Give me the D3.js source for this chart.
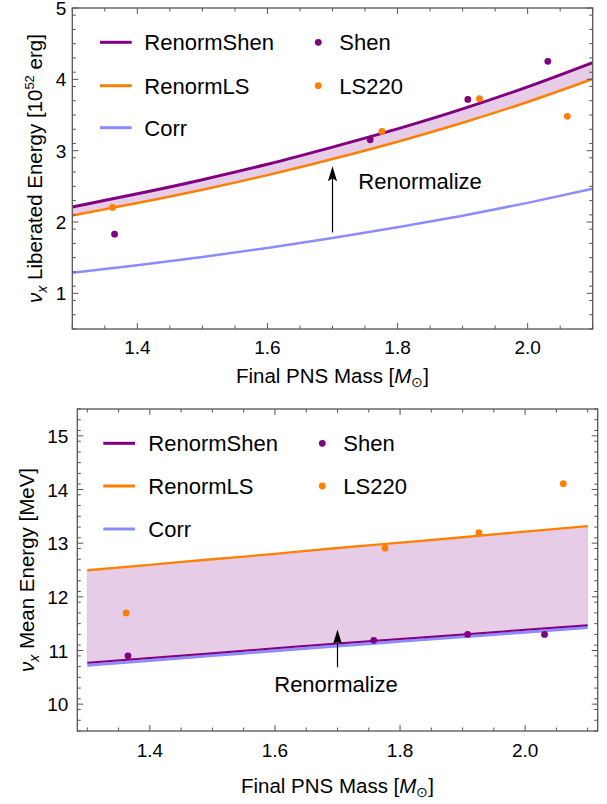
<!DOCTYPE html>
<html><head><meta charset="utf-8">
<script src="https://cdn.jsdelivr.net/npm/d3@7"></script>
<style>
html,body{margin:0;padding:0;background:#fff;}
svg{display:block;font-family:"Liberation Sans",Arial,sans-serif;}
</style></head>
<body>
<svg id="chart" width="607" height="804"></svg>
<script>
// ---------------- data ----------------
const massGrid = [1.3, 1.4, 1.5, 1.6, 1.7, 1.8, 1.9, 2.0, 2.1];
// top panel: liberated energy [1e52 erg]
const topCorr = [1.288, 1.395, 1.510, 1.636, 1.775, 1.925, 2.088, 2.268, 2.465];
const topRenormShen = [2.210, 2.395, 2.593, 2.810, 3.050, 3.305, 3.585, 3.895, 4.235];
const topRenormLS = [2.090, 2.265, 2.452, 2.657, 2.883, 3.126, 3.391, 3.683, 4.005];
// bottom panel: mean energy [MeV]
const botCorr = [10.725, 10.815, 10.905, 10.995, 11.085, 11.170, 11.255, 11.340, 11.430];
const botRenormShen = [10.770, 10.860, 10.950, 11.040, 11.130, 11.215, 11.300, 11.385, 11.470];
const botRenormLS = [12.495, 12.597, 12.700, 12.800, 12.910, 13.010, 13.110, 13.215, 13.318];
// simulation points
const shenMass = [1.365, 1.758, 1.908, 2.031];
const lsMass = [1.362, 1.776, 1.926, 2.061];
const topShenPts = [1.83, 3.153, 3.719, 4.252];
const topLSPts = [2.205, 3.270, 3.728, 3.481];
const botShenPts = [10.90, 11.19, 11.30, 11.30];
const botLSPts = [11.70, 12.906, 13.198, 14.108];
// ticks
const xMajor = [1.4, 1.6, 1.8, 2.0];
const topYMajor = [1, 2, 3, 4, 5];
const botYMajor = [10, 11, 12, 13, 14, 15];
const legendLines = ["RenormShen", "RenormLS", "Corr"];
const legendPoints = ["Shen", "LS220"];

// ---------------- style ----------------
const C = {shen: "#800080", ls: "#ff8000", corr: "#8c8cff", frame: "#555555"};
const FONT = "Liberation Sans, Arial, sans-serif";
const svg = d3.select("#chart");

function range(a, b, s) { const r = []; for (let v = a; v <= b + 1e-9; v += s) r.push(+v.toFixed(4)); return r; }

function panel(opt) {
  const g = svg.append("g");
  const x = d3.scaleLinear().domain(opt.xDom).range([opt.left, opt.right]);
  const y = d3.scaleLinear().domain(opt.yDom).range([opt.bottom, opt.top]);
  const lineOf = arr => d3.line().x((d, i) => x(massGrid[i])).y(d => y(d)).curve(d3.curveMonotoneX)(arr);

  // fill between RenormShen and RenormLS
  const area = d3.area().x((d, i) => x(massGrid[i])).y0((d, i) => y(opt.ls[i])).y1(d => y(d)).curve(d3.curveMonotoneX);
  g.append("path").attr("d", area(opt.shen)).attr("fill", C.shen).attr("fill-opacity", 0.2)
    .attr("stroke", C.shen).attr("stroke-opacity", 0.12).attr("stroke-width", 1);

  g.append("path").attr("d", lineOf(opt.corr)).attr("fill", "none").attr("stroke", C.corr).attr("stroke-width", opt.wCorr);
  g.append("path").attr("d", lineOf(opt.ls)).attr("fill", "none").attr("stroke", C.ls).attr("stroke-width", opt.wLS);
  g.append("path").attr("d", lineOf(opt.shen)).attr("fill", "none").attr("stroke", C.shen).attr("stroke-width", opt.wShen);

  g.selectAll(".ps").data(opt.shenPts).enter().append("circle")
    .attr("cx", (d, i) => x(shenMass[i])).attr("cy", d => y(d)).attr("r", 3.4).attr("fill", C.shen);
  g.selectAll(".pl").data(opt.lsPts).enter().append("circle")
    .attr("cx", (d, i) => x(lsMass[i])).attr("cy", d => y(d)).attr("r", 3.4).attr("fill", C.ls);

  // arrow
  const ax = x(1.70), ay0 = y(opt.arrow[0]), ay1 = y(opt.arrow[1]);
  g.append("line").attr("x1", ax).attr("x2", ax).attr("y1", ay0).attr("y2", ay1 + 8).attr("stroke", "#000").attr("stroke-width", 1.2);
  g.append("path").attr("d", `M${ax},${ay1} L${ax + 4.6},${ay1 + 15} L${ax},${ay1 + 12} L${ax - 4.6},${ay1 + 15} Z`).attr("fill", "#000");
  g.append("text").attr("x", opt.renorm[0]).attr("y", opt.renorm[1]).attr("text-anchor", opt.renorm[2])
    .attr("font-size", 22).attr("fill", "#000").text("Renormalize");

  // frame + ticks
  g.append("rect").attr("x", opt.left).attr("y", opt.top).attr("width", opt.right - opt.left).attr("height", opt.bottom - opt.top)
    .attr("fill", "none").attr("stroke", C.frame).attr("stroke-width", 1.3);
  const xMinor = range(1.3, 2.1, 0.05).filter(v => !xMajor.some(m => Math.abs(m - v) < 1e-6));
  const yMinor = range(opt.yDom[0], opt.yDom[1], 0.2).filter(v => !opt.yMajor.some(m => Math.abs(m - v) < 1e-6));
  const tk = g.append("g").attr("stroke", C.frame).attr("stroke-width", 1);
  [[xMajor, 6], [xMinor, 3.5]].forEach(([vals, L]) => vals.forEach(v => {
    tk.append("line").attr("x1", x(v)).attr("x2", x(v)).attr("y1", opt.bottom).attr("y2", opt.bottom - L);
    tk.append("line").attr("x1", x(v)).attr("x2", x(v)).attr("y1", opt.top).attr("y2", opt.top + L);
  }));
  [[opt.yMajor, 6], [yMinor, 3.5]].forEach(([vals, L]) => vals.forEach(v => {
    tk.append("line").attr("y1", y(v)).attr("y2", y(v)).attr("x1", opt.left).attr("x2", opt.left + L);
    tk.append("line").attr("y1", y(v)).attr("y2", y(v)).attr("x1", opt.right).attr("x2", opt.right - L);
  }));
  xMajor.forEach(v => g.append("text").attr("x", x(v)).attr("y", opt.xTickY).attr("text-anchor", "middle")
    .attr("font-size", 19).text(d3.format(".1f")(v)));
  opt.yMajor.forEach(v => g.append("text").attr("x", opt.left - opt.yTickGap).attr("y", y(v) + 7).attr("text-anchor", "end")
    .attr("font-size", 19).text(v));

  // x title
  const xt = g.append("text").attr("x", (opt.left + opt.right) / 2).attr("y", opt.xTitleY).attr("text-anchor", "middle").attr("font-size", 20.5);
  xt.append("tspan").text("Final PNS Mass [");
  xt.append("tspan").attr("font-style", "italic").text("M");
  xt.append("tspan").attr("font-size", 14).attr("dy", 4).text("\u2299");
  xt.append("tspan").attr("dy", -4).text("]");

  // y title
  const yt = g.append("text").attr("transform", `translate(${opt.yTitleX},${(opt.top + opt.bottom) / 2}) rotate(-90)`)
    .attr("text-anchor", "middle").attr("font-size", 20.5);
  yt.append("tspan").attr("font-style", "italic").text("\u03bd");
  yt.append("tspan").attr("font-style", "italic").attr("font-size", 14).attr("dy", 5).text("x");
  yt.append("tspan").attr("dy", -5).text(opt.yTitle[0]);
  if (opt.yTitle.length > 1) {
    yt.append("tspan").attr("font-size", 13).attr("dy", -8).text(opt.yTitle[1]);
    yt.append("tspan").attr("dy", 8).text(opt.yTitle[2]);
  }

  // legend
  const colorsL = [C.shen, C.ls, C.corr];
  legendLines.forEach((name, i) => {
    const ry = opt.legRows[i];
    g.append("line").attr("x1", opt.legLine[0]).attr("x2", opt.legLine[1]).attr("y1", ry).attr("y2", ry)
      .attr("stroke", colorsL[i]).attr("stroke-width", opt.legW);
    g.append("text").attr("x", opt.legText).attr("y", ry + 8).attr("font-size", 22).text(name);
  });
  const colorsP = [C.shen, C.ls];
  legendPoints.forEach((name, i) => {
    const ry = opt.legRows[i];
    g.append("circle").attr("cx", opt.legDot).attr("cy", ry).attr("r", 3.4).attr("fill", colorsP[i]);
    g.append("text").attr("x", opt.legDot + 21).attr("y", ry + 8).attr("font-size", 22).text(name);
  });
}

panel({
  xDom: [1.3, 2.1], yDom: [0.5, 5], left: 72.3, right: 592.7, top: 8, bottom: 329,
  corr: topCorr, shen: topRenormShen, ls: topRenormLS, shenPts: topShenPts, lsPts: topLSPts,
  wCorr: 2.5, wLS: 2.5, wShen: 3,
  arrow: [1.854, 2.78], renorm: [358.3, 188.5, "start"],
  yMajor: topYMajor, xTickY: 354, yTickGap: 6, xTitleY: 383, yTitleX: 42,
  yTitle: [" Liberated Energy [10", "52", " erg]"],
  legRows: [42.3, 85.7, 127.7], legLine: [100, 131.7], legText: 144.3, legDot: 318.3, legW: 3
});
panel({
  xDom: [1.284, 2.116], yDom: [9.5, 15.5], left: 77.3, right: 597.7, top: 409, bottom: 731,
  corr: botCorr, shen: botRenormShen, ls: botRenormLS, shenPts: botShenPts, lsPts: botLSPts,
  wCorr: 3, wLS: 2.3, wShen: 2,
  arrow: [10.69, 11.39], renorm: [336, 691.7, "middle"],
  yMajor: botYMajor, xTickY: 756.7, yTickGap: 9, xTitleY: 793, yTitleX: 34,
  yTitle: [" Mean Energy [MeV]"],
  legRows: [443.3, 486, 529], legLine: [103.3, 135], legText: 148.3, legDot: 322.3, legW: 3
});
</script>
</body></html>
